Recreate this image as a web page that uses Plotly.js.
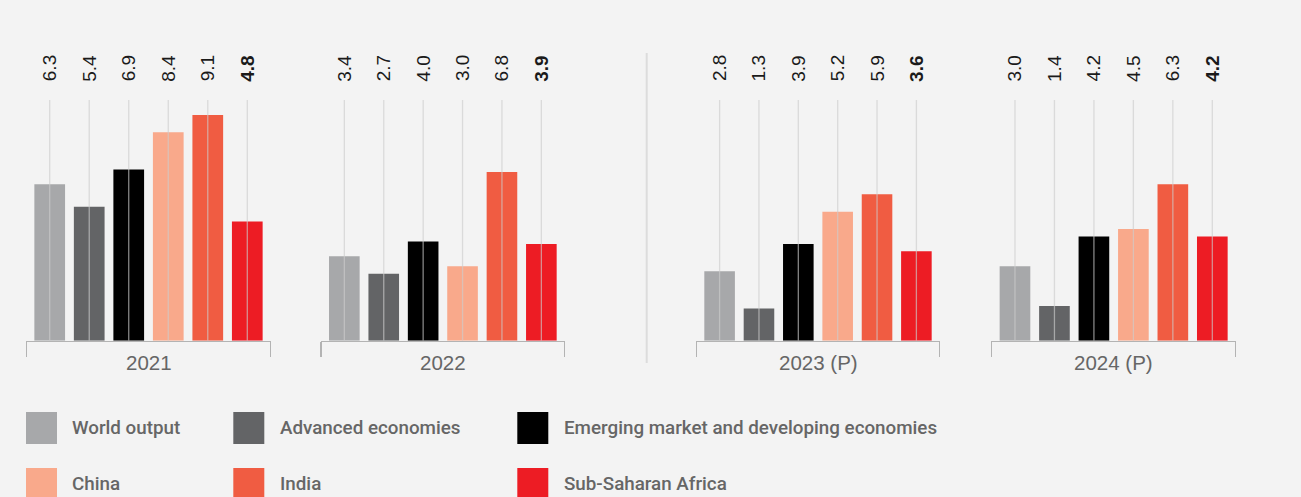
<!DOCTYPE html>
<html><head><meta charset="utf-8">
<script src="https://cdn.plot.ly/plotly-3.0.1.min.js"></script>
<style>html,body{margin:0;padding:0;background:#f3f3f3}</style>
</head><body><div id="chart" style="width:1301px;height:497px"></div>
<script>
// ---- data ----
const years = ['2021', '2022', '2023 (P)', '2024 (P)'];
const seriesNames = ['World output', 'Advanced economies', 'Emerging market and developing economies', 'China', 'India', 'Sub-Saharan Africa'];
const worldOutput = [6.3, 3.4, 2.8, 3.0];
const advancedEconomies = [5.4, 2.7, 1.3, 1.4];
const emergingEconomies = [6.9, 4.0, 3.9, 4.2];
const china = [8.4, 3.0, 5.2, 4.5];
const india = [9.1, 6.8, 5.9, 6.3];
const subSaharanAfrica = [4.8, 3.9, 3.6, 4.2];
const seriesValues = [worldOutput, advancedEconomies, emergingEconomies, china, india, subSaharanAfrica];

// ---- styles ----
const seriesColors = ['#a7a8aa', '#636466', '#000000', '#f9a98b', '#f05c42', '#ed1c24'];
const W = 1301, H = 497;
const panelPx = [[26, 271], [320.7, 565], [696, 940], [991.3, 1236]];
const baseY = 340.7, topY = 100;
const yMax = 9.7;
const xRange = [-0.6, 5.6];
const textFont = 'Liberation Sans, Arial, sans-serif';
const gridCol = 'rgba(205,205,205,0.65)';

const traces = [];
const shapes = [];
const annotations = [];
const layout = {
  width: W, height: H,
  margin: {l: 0, r: 0, t: 0, b: 0},
  paper_bgcolor: '#f3f3f3', plot_bgcolor: 'rgba(0,0,0,0)',
  barmode: 'overlay', showlegend: false,
  yaxis: {domain: [(H - baseY) / H, (H - topY) / H], range: [0, yMax], visible: false, fixedrange: true}
};

years.forEach((yr, p) => {
  const ax = p === 0 ? 'x' : 'x' + (p + 1);
  const axKey = p === 0 ? 'xaxis' : 'xaxis' + (p + 1);
  layout[axKey] = {
    domain: [panelPx[p][0] / W, panelPx[p][1] / W],
    range: xRange, anchor: 'y', showgrid: false, zeroline: false,
    showline: true, linecolor: '#b3b3b3', linewidth: 1.5,
    tickmode: 'array', tickvals: [xRange[0] + 0.01, xRange[1] - 0.01], ticks: 'outside', ticklen: 15,
    tickcolor: '#b3b3b3', tickwidth: 1.5, showticklabels: false, fixedrange: true
  };
  seriesNames.forEach((name, s) => {
    const v = seriesValues[s][p];
    traces.push({
      type: 'bar', x: [s], y: [v], xaxis: ax, yaxis: 'y', width: 0.777,
      marker: {color: seriesColors[s], line: {width: 0}}, name: name, hoverinfo: 'y'
    });
    shapes.push({type: 'line', xref: ax, yref: 'y', x0: s, x1: s, y0: 0, y1: yMax,
      layer: 'above', line: {color: gridCol, width: 1.3}});
    annotations.push({
      xref: ax, yref: 'paper', x: s, y: (H - 68.5) / H, xanchor: 'center', yanchor: 'middle',
      text: s === seriesNames.length - 1 ? '<b>' + v.toFixed(1) + '</b>' : v.toFixed(1),
      textangle: -90, showarrow: false,
      font: {family: textFont, size: 19, color: '#1a1a1a'}
    });
  });
  annotations.push({
    xref: ax, yref: 'paper', x: 2.5, y: (H - 362) / H, xanchor: 'center', yanchor: 'middle',
    text: yr, showarrow: false, font: {family: textFont, size: 20.5, color: '#666'}
  });
});

// divider between actual and projected years
shapes.push({type: 'line', xref: 'paper', yref: 'paper', x0: 646.7 / W, x1: 646.7 / W,
  y0: (H - 363) / H, y1: (H - 53) / H, line: {color: '#dcdcdc', width: 2}});

// legend drawn as swatches + labels
const legCols = [[26, 70], [233.3, 278], [517.3, 562]];
const legRows = [[412, 428], [468, 484]];
seriesNames.forEach((name, s) => {
  const col = legCols[s % 3], row = legRows[Math.floor(s / 3)];
  shapes.push({type: 'rect', xref: 'paper', yref: 'paper',
    x0: col[0] / W, x1: (col[0] + 31) / W, y0: (H - row[0] - 32) / H, y1: (H - row[0]) / H,
    fillcolor: seriesColors[s], line: {width: 0}});
  annotations.push({xref: 'paper', yref: 'paper', x: col[1] / W, y: (H - row[1]) / H,
    xanchor: 'left', yanchor: 'middle', text: name, showarrow: false,
    font: {family: 'Roboto, sans-serif', size: 18.8, weight: 500, color: '#666'}});
});

layout.shapes = shapes;
layout.annotations = annotations;
Plotly.newPlot('chart', traces, layout, {staticPlot: true, displayModeBar: false});
</script></body></html>
